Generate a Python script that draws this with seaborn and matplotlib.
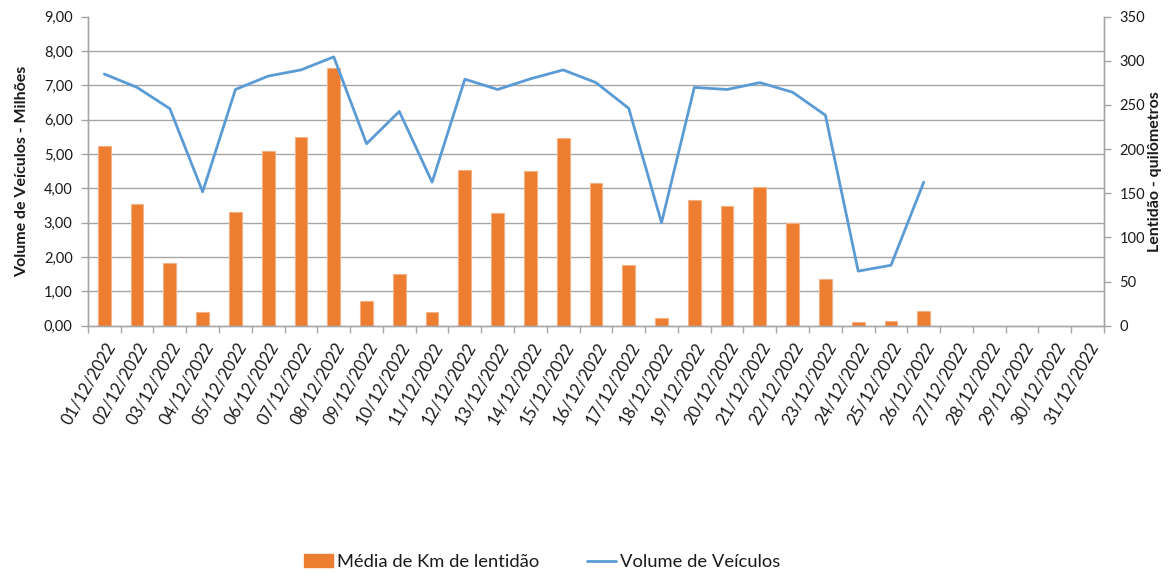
import numpy as np
import pandas as pd
import matplotlib
matplotlib.use("Agg")
import matplotlib.pyplot as plt
import seaborn as sns
from matplotlib.patches import Patch
from matplotlib.lines import Line2D
from matplotlib.ticker import FixedLocator

# ---------------- data ----------------
datas = ["01/12/2022", "02/12/2022", "03/12/2022", "04/12/2022", "05/12/2022",
         "06/12/2022", "07/12/2022", "08/12/2022", "09/12/2022", "10/12/2022",
         "11/12/2022", "12/12/2022", "13/12/2022", "14/12/2022", "15/12/2022",
         "16/12/2022", "17/12/2022", "18/12/2022", "19/12/2022", "20/12/2022",
         "21/12/2022", "22/12/2022", "23/12/2022", "24/12/2022", "25/12/2022",
         "26/12/2022", "27/12/2022", "28/12/2022", "29/12/2022", "30/12/2022",
         "31/12/2022"]

km_lentidao = [203.4, 138.4, 70.8, 15.2, 128.7, 197.9, 214.3, 291.7, 28.0, 58.3,
               15.9, 176.9, 127.6, 175.0, 212.3, 161.4, 68.4, 8.2, 141.9, 136.1,
               156.7, 116.7, 52.9, 4.3, 5.4, 16.3]

volume_milhoes = [7.33, 6.94, 6.32, 3.90, 6.88, 7.27, 7.45, 7.83, 5.30, 6.24,
                  4.18, 7.18, 6.88, 7.19, 7.45, 7.08, 6.33, 3.00, 6.94, 6.88,
                  7.08, 6.80, 6.13, 1.59, 1.76, 4.18]

left_ticks = [0, 1, 2, 3, 4, 5, 6, 7, 8, 9]
right_ticks = [0, 50, 100, 150, 200, 250, 300, 350]

# ---------------- style ----------------
sns.set_theme(style="white")
plt.rcParams["font.family"] = ["Lato", "DejaVu Sans"]

ORANGE = "#ED7D31"
BLUE = "#5B9BD5"
GRAY = "#A6A6A6"
TXT = "#1a1a1a"

fig = plt.figure(figsize=(11.71, 5.74), dpi=100)
ax = fig.add_axes([0.0751, 0.4326, 0.8677, 0.5383])
ax2 = ax.twinx()

df_bar = pd.DataFrame({"data": datas[:len(km_lentidao)], "km": km_lentidao})
df_line = pd.DataFrame({"data": datas[:len(volume_milhoes)], "vol": volume_milhoes})

sns.barplot(data=df_bar, x="data", y="km", order=datas, ax=ax2, color=ORANGE,
            saturation=1, width=0.39, edgecolor="#F4B183", linewidth=0.8, zorder=2)
sns.pointplot(data=df_line, x="data", y="vol", order=datas, ax=ax, color=BLUE,
              markers="", linestyles="-", linewidth=2.0, errorbar=None)

# layering: line axis on top, bars + grid below
ax.set_zorder(ax2.get_zorder() + 1)
ax.patch.set_visible(False)

ax.set_ylim(0, 9)
ax2.set_ylim(0, 350)
ax.set_xlim(-0.5, len(datas) - 0.5)

# y ticks
ax.yaxis.set_major_locator(FixedLocator(left_ticks))
ax.set_yticklabels([f"{v:.2f}".replace(".", ",") for v in left_ticks])
ax2.yaxis.set_major_locator(FixedLocator(right_ticks))
ax2.set_yticklabels([str(v) for v in right_ticks])

# gridlines aligned with left ticks, drawn on the bar axis (behind bars)
ax2.yaxis.set_minor_locator(FixedLocator([v * 350 / 9 for v in left_ticks]))
ax2.set_axisbelow(True)
ax2.grid(which="minor", axis="y", color=GRAY, linewidth=1.0)
ax2.grid(which="major", visible=False)
ax.grid(False)

# x ticks: labels at centers, tick marks between categories
ax.set_xticks(range(len(datas)))
ax.set_xticklabels(datas, rotation=60, ha="right", va="top",
                   rotation_mode="anchor")
ax.set_xticks(np.arange(-0.5, len(datas), 1), minor=True)
ax.tick_params(axis="x", which="major", length=0, pad=10, labelsize=12,
               labelcolor=TXT)
ax.tick_params(axis="x", which="minor", length=5, width=1, color=GRAY,
               bottom=True)

ax.tick_params(axis="y", which="major", left=True, length=5, width=1,
               color=GRAY, labelsize=10.5, labelcolor=TXT, pad=6)
ax2.tick_params(axis="y", which="major", right=True, length=5, width=1,
                color=GRAY, labelsize=10.5, labelcolor=TXT, pad=6)
ax2.tick_params(axis="y", which="minor", length=0)

for a in (ax, ax2):
    for s in a.spines.values():
        s.set_color(GRAY)
        s.set_linewidth(1.0)
    a.spines["top"].set_visible(False)

ax.set_xlabel("")
ax.set_ylabel("Volume de Veículos - Milhões", fontweight="bold", fontsize=11.5,
              color=TXT)
ax2.set_ylabel("Lentidão - quilômetros", fontweight="bold", fontsize=11.5,
               color=TXT)
ax.yaxis.set_label_coords(-0.058, 0.5)
ax2.yaxis.set_label_coords(1.043, 0.5)

handles = [Patch(facecolor=ORANGE, edgecolor=ORANGE, label="Média de Km de lentidão"),
           Line2D([], [], color=BLUE, lw=2, label="Volume de Veículos")]
fig.legend(handles=handles, loc="center", bbox_to_anchor=(0.463, 1 - 562 / 574),
           ncol=2, frameon=False, fontsize=13.2, handlelength=1.6,
           handletextpad=0.2, columnspacing=2.6, labelcolor=TXT)

fig.savefig("out.png", dpi=100)
